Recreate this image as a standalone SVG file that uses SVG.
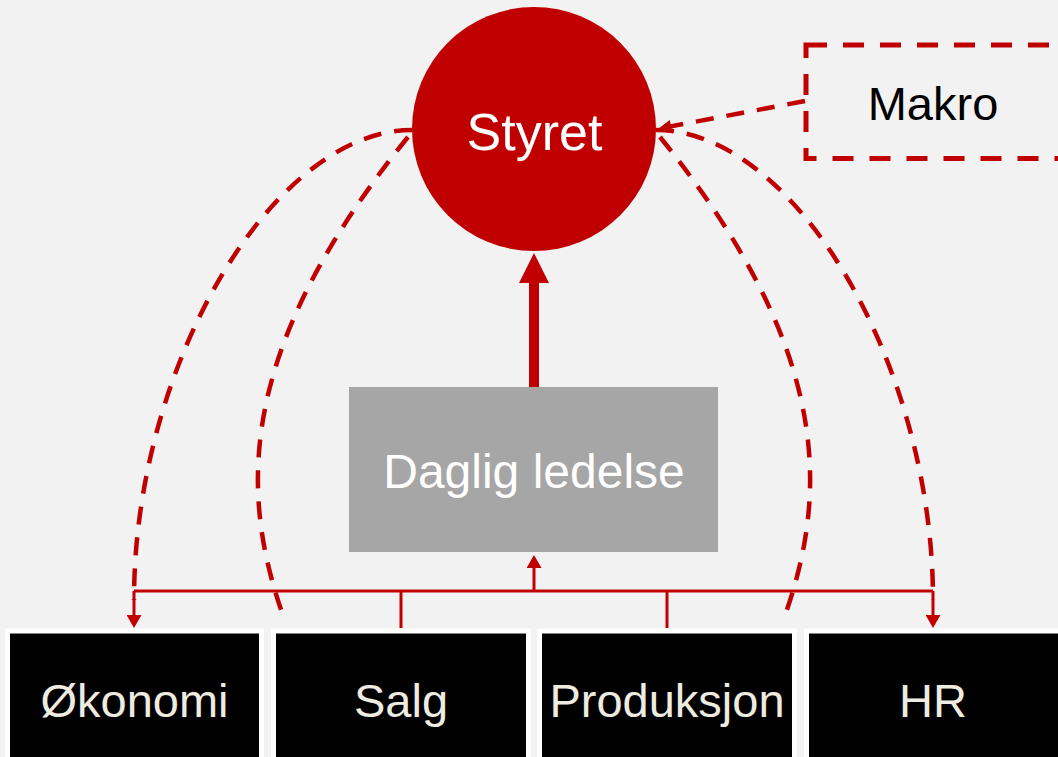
<svg xmlns="http://www.w3.org/2000/svg" width="1058" height="757" viewBox="0 0 1058 757">
<style>
.dash{fill:none;stroke:#c00000;stroke-width:4.5;stroke-dasharray:18 13}
.tree{fill:none;stroke:#c00000;stroke-width:3}
.dept{fill:#000;stroke:#fff;stroke-width:5}
.dtxt{font-family:"Liberation Sans",Arial,sans-serif;font-size:47px;fill:#eeece1;text-anchor:middle}
.txt{font-family:"Liberation Sans",Arial,sans-serif;text-anchor:middle}
</style>
<defs>
<marker id="ah" viewBox="0 0 13 15" refX="0" refY="7.5" markerWidth="13" markerHeight="15" markerUnits="userSpaceOnUse" orient="auto">
<path d="M0,0 L13,7.5 L0,15 z" fill="#c00000"/>
</marker>
<marker id="ahs" viewBox="0 0 10 10" refX="4.7" refY="5" markerWidth="15" markerHeight="13" markerUnits="userSpaceOnUse" orient="auto">
<path d="M0,0 L10,5 L0,10 z" fill="#c00000"/>
</marker>
</defs>
<rect width="1058" height="757" fill="#f2f2f2"/>
<g id="connectors">
<path class="dash" d="M412,130 C273,130 134,365 134,600"/>
<path class="dash" d="M408,137 C231.6,355.4 240.8,498.8 285,621"/>
<path class="dash" d="M656,130 C795,130 933,365 933,600"/>
<path class="dash" d="M660,137 C836.4,355.4 827.2,498.8 783,621"/>
<path class="dash" d="M805,101 L665,127.5" marker-end="url(#ahs)"/>
<path class="tree" d="M134,591 L933,591"/>
<path class="tree" d="M134,591 L134,615" marker-end="url(#ah)"/>
<path class="tree" d="M933,591 L933,615" marker-end="url(#ah)"/>
<path class="tree" d="M401,591 L401,628"/>
<path class="tree" d="M667,591 L667,628"/>
<path class="tree" d="M534,591 L534,568" marker-end="url(#ah)"/>
<path d="M529,387 L529,283 L519,283 L534,253 L549,283 L539,283 L539,387 z" fill="#c00000"/>
</g>
<g id="styret">
<circle cx="534" cy="129" r="122" fill="#c00000"/>
<text class="txt" x="534.5" y="150" font-size="52" fill="#fff">Styret</text>
</g>
<g id="makro">
<rect x="806" y="45" width="300" height="113.5" fill="none" stroke="#c00000" stroke-width="5" stroke-dasharray="21 16"/>
<text class="txt" x="933" y="120" font-size="47" fill="#000">Makro</text>
</g>
<g id="daglig">
<rect x="349" y="387" width="369" height="165" fill="#a6a6a6"/>
<text class="txt" x="534" y="488" font-size="48" fill="#fff">Daglig ledelse</text>
</g>
<g id="okonomi">
<rect class="dept" x="7.5" y="631" width="254" height="140"/>
<text class="dtxt" x="134.5" y="717">Økonomi</text>
</g>
<g id="salg">
<rect class="dept" x="273.5" y="631" width="255" height="140"/>
<text class="dtxt" x="401" y="717">Salg</text>
</g>
<g id="produksjon">
<rect class="dept" x="539.5" y="631" width="255" height="140"/>
<text class="dtxt" x="667" y="717">Produksjon</text>
</g>
<g id="hr">
<rect class="dept" x="806.5" y="631" width="255" height="140"/>
<text class="dtxt" x="933" y="717">HR</text>
</g>
</svg>
